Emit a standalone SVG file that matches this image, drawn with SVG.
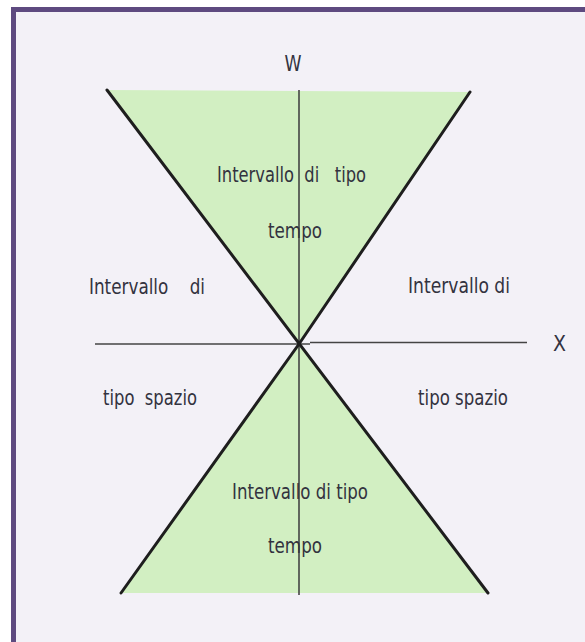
<svg xmlns="http://www.w3.org/2000/svg" width="585" height="642" viewBox="0 0 585 642">
<style>
.t{font-family:"DejaVu Sans Condensed","DejaVu Sans","Liberation Sans",sans-serif;font-size:21px;fill:#33333f;white-space:pre}
.ax{stroke:#444;stroke-width:1.6;fill:none}
.cone{stroke:#1e1e1e;stroke-width:3;fill:none;stroke-linecap:round}
</style>
<rect x="0" y="0" width="585" height="642" fill="#ffffff"/>
<rect x="13.5" y="9.5" width="590" height="650" fill="#f3f1f7" stroke="#5e4a80" stroke-width="5"/>
<g id="cones">
<polygon points="107,90 470,92 299,344" fill="#d2efc2"/>
<polygon points="299,344 488,593 121,593" fill="#d2efc2"/>
</g>
<g id="connectors">
<line class="ax" x1="299" y1="90" x2="299" y2="595"/>
<line class="ax" x1="95" y1="344" x2="310" y2="344"/>
<line class="ax" x1="310" y1="342.5" x2="527" y2="342.5"/>
<line class="cone" x1="107" y1="90" x2="488" y2="593"/>
<line class="cone" x1="470" y1="92" x2="299" y2="344"/>
<line class="cone" x1="299" y1="344" x2="121" y2="593"/>
</g>
<g id="labels">
<text class="t" x="293" y="71" text-anchor="middle" textLength="17" lengthAdjust="spacingAndGlyphs">W</text>
<text class="t" x="553" y="351" textLength="13" lengthAdjust="spacingAndGlyphs">X</text>
</g>
<g id="time-top">
<text class="t" x="217" y="182" textLength="149" lengthAdjust="spacingAndGlyphs" xml:space="preserve">Intervallo  di   tipo</text>
<text class="t" x="268" y="238" textLength="54" lengthAdjust="spacingAndGlyphs">tempo</text>
</g>
<g id="space-left">
<text class="t" x="89" y="294" textLength="116" lengthAdjust="spacingAndGlyphs" xml:space="preserve">Intervallo    di</text>
<text class="t" x="103" y="405" textLength="94" lengthAdjust="spacingAndGlyphs" xml:space="preserve">tipo  spazio</text>
</g>
<g id="space-right">
<text class="t" x="408" y="293" textLength="102" lengthAdjust="spacingAndGlyphs">Intervallo di</text>
<text class="t" x="418" y="405" textLength="90" lengthAdjust="spacingAndGlyphs">tipo spazio</text>
</g>
<g id="time-bottom">
<text class="t" x="232" y="499" textLength="136" lengthAdjust="spacingAndGlyphs">Intervallo di tipo</text>
<text class="t" x="268" y="553" textLength="54" lengthAdjust="spacingAndGlyphs">tempo</text>
</g>
</svg>
